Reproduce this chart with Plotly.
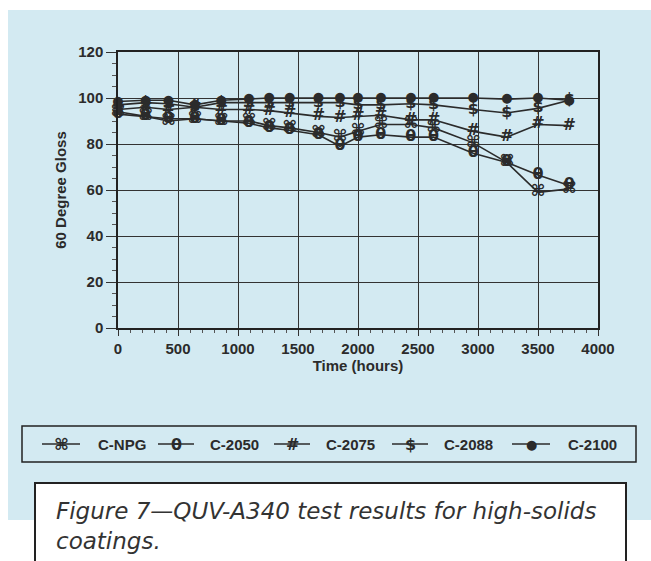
import plotly.graph_objects as go

# ---------------- data ----------------
hours = [0, 230, 420, 640, 860, 1090, 1260, 1430, 1670, 1850, 2000, 2190, 2440, 2630, 2960, 3240, 3500, 3760]

c_npg  = [94, 92, 90, 91, 90, 90, 88, 87, 85, 83, 85.5, 88.5, 88.5, 87, 80.5, 72, 59, 60.5]
c_2050 = [93, 92, 91, 91, 90, 89, 87, 86, 84, 79, 83, 84, 83, 83, 76, 72, 66.5, 62]
c_2075 = [95, 96, 95, 96, 95, 95, 94.5, 93.5, 92, 91.5, 92, 92.5, 90.5, 90.5, 85.5, 83, 88.5, 88]
c_2088 = [97, 98, 97.5, 96, 98, 98, 98, 98, 98, 98, 97, 97, 97.5, 97, 95, 93.5, 95.5, 99]
c_2100 = [98.5, 99, 99, 97, 99, 99.5, 100, 100, 100, 100, 100, 100, 100, 100, 100, 99.5, 100, 99]

series_names = ["C-NPG", "C-2050", "C-2075", "C-2088", "C-2100"]
series_vals = [c_npg, c_2050, c_2075, c_2088, c_2100]
glyphs = ["⌘", "θ", "#", "$", "●"]

x_ticks = [0, 500, 1000, 1500, 2000, 2500, 3000, 3500, 4000]
y_ticks = [0, 20, 40, 60, 80, 100, 120]

caption = "Figure 7—QUV-A340 test results for high-solids<br>coatings."

# ---------------- layout helpers ----------------
W, H = 651, 561
L, R, T, B = 118, 598, 52, 328  # plot area in pixels


def px(x):
    return (x - L) / (R - L)


def py(y):
    return (B - y) / (B - T)


BLUE = "#d3eaf2"
INK = "#2b2b2b"
FONT = "Liberation Sans"


def glyph_font(g):
    return dict(family="DejaVu Sans", size=16 if g != "●" else 13, color=INK, weight="bold")


fig = go.Figure()

for name, vals, g in zip(series_names, series_vals, glyphs):
    fig.add_trace(go.Scatter(
        x=hours, y=vals, name=name, mode="lines+text",
        text=[g] * len(hours), textposition="middle center",
        textfont=glyph_font(g),
        line=dict(color=INK, width=1.6),
        showlegend=False, cliponaxis=False,
    ))

shapes = []
annotations = []

# blue page background
shapes.append(dict(type="rect", xref="paper", yref="paper",
                   x0=px(8), x1=px(651), y0=py(520), y1=py(10),
                   fillcolor=BLUE, line=dict(width=0), layer="below"))

# legend box
shapes.append(dict(type="rect", xref="paper", yref="paper",
                   x0=px(22), x1=px(636), y0=py(462), y1=py(426),
                   fillcolor="rgba(0,0,0,0)", line=dict(color="#222", width=1.5), layer="above"))

leg_items = [  # line start, line end, text start
    (42, 80, 96),
    (158, 194, 208),
    (274, 310, 324),
    (392, 428, 442),
    (512, 550, 566),
]
leg_y = 444
for (a, b, t), name, g in zip(leg_items, series_names, glyphs):
    shapes.append(dict(type="line", xref="paper", yref="paper",
                       x0=px(a), x1=px(b), y0=py(leg_y), y1=py(leg_y),
                       line=dict(color=INK, width=1.6)))
    annotations.append(dict(xref="paper", yref="paper", x=px((a + b) / 2), y=py(leg_y),
                            text=g, showarrow=False, xanchor="center", yanchor="middle",
                            font=glyph_font(g)))
    annotations.append(dict(xref="paper", yref="paper", x=px(t), y=py(leg_y),
                            text=name, showarrow=False, xanchor="left", yanchor="middle",
                            font=dict(family=FONT, size=15, color=INK, weight="bold")))

# caption box
shapes.append(dict(type="rect", xref="paper", yref="paper",
                   x0=px(35), x1=px(626), y0=py(575), y1=py(483),
                   fillcolor="white", line=dict(color="#222", width=2), layer="above"))
annotations.append(dict(xref="paper", yref="paper", x=px(54), y=py(496),
                        text=caption, showarrow=False, xanchor="left", yanchor="top", align="left",
                        font=dict(family="DejaVu Sans", size=23, color="#333", style="italic", weight=300)))

fig.update_layout(
    width=W, height=H,
    margin=dict(l=L, r=W - R, t=T, b=H - B, pad=0),
    paper_bgcolor="white",
    plot_bgcolor="rgba(0,0,0,0)",
    shapes=shapes,
    annotations=annotations,
    font=dict(family=FONT, color=INK),
    xaxis=dict(
        range=[0, 4000], tickvals=x_ticks, ticktext=[str(v) for v in x_ticks],
        showgrid=True, gridcolor="#333", gridwidth=1,
        showline=True, linecolor="#222", linewidth=1.5, mirror=True,
        ticks="outside", ticklen=6, tickcolor="#333",
        minor=dict(dtick=100, ticks="outside", ticklen=3, tickcolor="#555", showgrid=False),
        tickfont=dict(size=15, color=INK, weight="bold"),
        title=dict(text="Time (hours)", font=dict(size=15, color=INK, weight="bold"), standoff=3),
        zeroline=False,
    ),
    yaxis=dict(
        range=[0, 120], tickvals=y_ticks, ticktext=[str(v) for v in y_ticks],
        showgrid=True, gridcolor="#333", gridwidth=1,
        showline=True, linecolor="#222", linewidth=1.5, mirror=True,
        ticks="outside", ticklen=10, tickcolor="#333",
        minor=dict(dtick=5, ticks="outside", ticklen=4, tickcolor="#555", showgrid=False),
        tickfont=dict(size=15, color=INK, weight="bold"),
        title=dict(text="60 Degree Gloss", font=dict(size=15, color=INK, weight="bold"), standoff=8),
        zeroline=False,
    ),
)

fig.write_html("out.html")
